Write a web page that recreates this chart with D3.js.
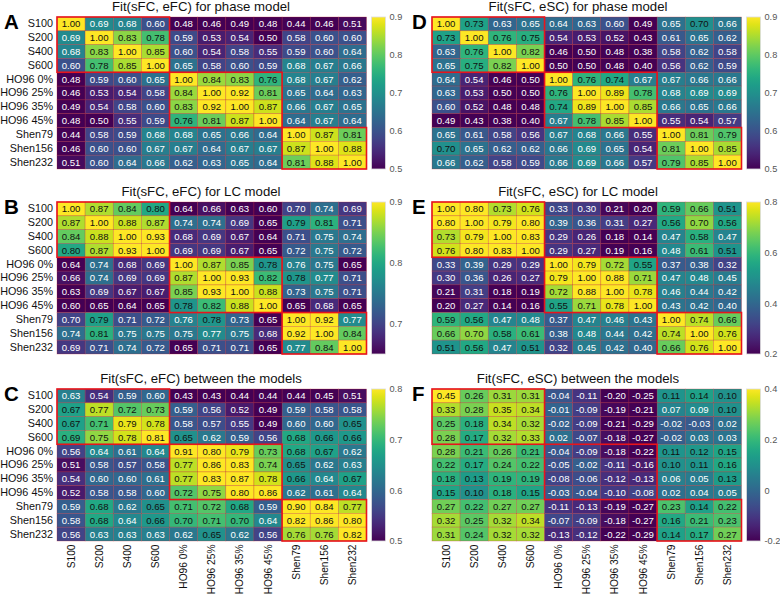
<!DOCTYPE html>
<html><head><meta charset="utf-8">
<script src="https://cdn.jsdelivr.net/npm/d3@7"></script>
<style>
body{margin:0;background:#fff;}
svg{display:block;font-family:"Liberation Sans",Arial,Helvetica,sans-serif;}
</style></head>
<body><svg id="chart" width="780" height="596"></svg>
<script>
const labels = ["S100","S200","S400","S600","HO96 0%","HO96 25%","HO96 35%","HO96 45%","Shen79","Shen156","Shen232"];

const phaseEFC = [
[1.00,0.69,0.68,0.60,0.48,0.46,0.49,0.48,0.44,0.46,0.51],
[0.69,1.00,0.83,0.78,0.59,0.53,0.54,0.50,0.58,0.60,0.60],
[0.68,0.83,1.00,0.85,0.60,0.54,0.58,0.55,0.59,0.60,0.64],
[0.60,0.78,0.85,1.00,0.65,0.58,0.60,0.59,0.68,0.67,0.66],
[0.48,0.59,0.60,0.65,1.00,0.84,0.83,0.76,0.68,0.67,0.62],
[0.46,0.53,0.54,0.58,0.84,1.00,0.92,0.81,0.65,0.64,0.63],
[0.49,0.54,0.58,0.60,0.83,0.92,1.00,0.87,0.66,0.67,0.65],
[0.48,0.50,0.55,0.59,0.76,0.81,0.87,1.00,0.64,0.67,0.64],
[0.44,0.58,0.59,0.68,0.68,0.65,0.66,0.64,1.00,0.87,0.81],
[0.46,0.60,0.60,0.67,0.67,0.64,0.67,0.67,0.87,1.00,0.88],
[0.51,0.60,0.64,0.66,0.62,0.63,0.65,0.64,0.81,0.88,1.00]];

const lcEFC = [
[1.00,0.87,0.84,0.80,0.64,0.66,0.63,0.60,0.70,0.74,0.69],
[0.87,1.00,0.88,0.87,0.74,0.74,0.69,0.65,0.79,0.81,0.71],
[0.84,0.88,1.00,0.93,0.68,0.69,0.67,0.64,0.71,0.75,0.74],
[0.80,0.87,0.93,1.00,0.69,0.69,0.67,0.65,0.72,0.75,0.72],
[0.64,0.74,0.68,0.69,1.00,0.87,0.85,0.78,0.76,0.75,0.65],
[0.66,0.74,0.69,0.69,0.87,1.00,0.93,0.82,0.78,0.77,0.71],
[0.63,0.69,0.67,0.67,0.85,0.93,1.00,0.88,0.73,0.75,0.71],
[0.60,0.65,0.64,0.65,0.78,0.82,0.88,1.00,0.65,0.68,0.65],
[0.70,0.79,0.71,0.72,0.76,0.78,0.73,0.65,1.00,0.92,0.77],
[0.74,0.81,0.75,0.75,0.75,0.77,0.75,0.68,0.92,1.00,0.84],
[0.69,0.71,0.74,0.72,0.65,0.71,0.71,0.65,0.77,0.84,1.00]];

const betweenEFC = [
[0.63,0.54,0.59,0.60,0.43,0.43,0.44,0.44,0.44,0.45,0.51],
[0.67,0.77,0.72,0.73,0.59,0.56,0.52,0.49,0.59,0.58,0.58],
[0.67,0.71,0.79,0.78,0.58,0.57,0.55,0.49,0.60,0.60,0.65],
[0.69,0.75,0.78,0.81,0.65,0.62,0.59,0.56,0.68,0.66,0.66],
[0.56,0.64,0.61,0.64,0.91,0.80,0.79,0.73,0.68,0.67,0.62],
[0.51,0.58,0.57,0.58,0.77,0.86,0.83,0.74,0.65,0.62,0.63],
[0.54,0.60,0.60,0.61,0.77,0.83,0.87,0.78,0.66,0.64,0.67],
[0.52,0.58,0.58,0.60,0.72,0.75,0.80,0.86,0.62,0.61,0.64],
[0.59,0.68,0.62,0.65,0.71,0.72,0.68,0.59,0.90,0.84,0.77],
[0.58,0.68,0.64,0.66,0.70,0.71,0.70,0.64,0.82,0.86,0.80],
[0.56,0.63,0.63,0.63,0.62,0.65,0.62,0.56,0.76,0.76,0.82]];

const phaseESC = [
[1.00,0.73,0.63,0.65,0.64,0.63,0.60,0.49,0.65,0.70,0.66],
[0.73,1.00,0.76,0.75,0.54,0.53,0.52,0.43,0.61,0.65,0.62],
[0.63,0.76,1.00,0.82,0.46,0.50,0.48,0.38,0.58,0.62,0.58],
[0.65,0.75,0.82,1.00,0.50,0.50,0.48,0.40,0.56,0.62,0.59],
[0.64,0.54,0.46,0.50,1.00,0.76,0.74,0.67,0.67,0.66,0.66],
[0.63,0.53,0.50,0.50,0.76,1.00,0.89,0.78,0.68,0.69,0.69],
[0.60,0.52,0.48,0.48,0.74,0.89,1.00,0.85,0.66,0.65,0.66],
[0.49,0.43,0.38,0.40,0.67,0.78,0.85,1.00,0.55,0.54,0.57],
[0.65,0.61,0.58,0.56,0.67,0.68,0.66,0.55,1.00,0.81,0.79],
[0.70,0.65,0.62,0.62,0.66,0.69,0.65,0.54,0.81,1.00,0.85],
[0.66,0.62,0.58,0.59,0.66,0.69,0.66,0.57,0.79,0.85,1.00]];

const lcESC = [
[1.00,0.80,0.73,0.76,0.33,0.30,0.21,0.20,0.59,0.66,0.51],
[0.80,1.00,0.79,0.80,0.39,0.36,0.31,0.27,0.56,0.70,0.56],
[0.73,0.79,1.00,0.83,0.29,0.26,0.18,0.14,0.47,0.58,0.47],
[0.76,0.80,0.83,1.00,0.29,0.27,0.19,0.16,0.48,0.61,0.51],
[0.33,0.39,0.29,0.29,1.00,0.79,0.72,0.55,0.37,0.38,0.32],
[0.30,0.36,0.26,0.27,0.79,1.00,0.88,0.71,0.47,0.48,0.45],
[0.21,0.31,0.18,0.19,0.72,0.88,1.00,0.78,0.46,0.44,0.42],
[0.20,0.27,0.14,0.16,0.55,0.71,0.78,1.00,0.43,0.42,0.40],
[0.59,0.56,0.47,0.48,0.37,0.47,0.46,0.43,1.00,0.74,0.66],
[0.66,0.70,0.58,0.61,0.38,0.48,0.44,0.42,0.74,1.00,0.76],
[0.51,0.56,0.47,0.51,0.32,0.45,0.42,0.40,0.66,0.76,1.00]];

const betweenESC = [
[0.45,0.26,0.31,0.31,-0.04,-0.11,-0.20,-0.25,0.11,0.14,0.10],
[0.33,0.28,0.35,0.34,-0.01,-0.09,-0.19,-0.21,0.07,0.09,0.10],
[0.25,0.18,0.34,0.32,-0.02,-0.09,-0.21,-0.29,-0.02,-0.03,0.02],
[0.28,0.17,0.32,0.33,0.02,-0.07,-0.18,-0.27,-0.02,0.03,0.03],
[0.28,0.21,0.26,0.21,-0.04,-0.09,-0.18,-0.22,0.11,0.12,0.15],
[0.22,0.17,0.24,0.22,-0.05,-0.02,-0.11,-0.16,0.10,0.11,0.16],
[0.18,0.13,0.19,0.19,-0.08,-0.06,-0.12,-0.13,0.06,0.05,0.13],
[0.15,0.10,0.18,0.15,-0.03,-0.04,-0.10,-0.08,0.02,0.04,0.05],
[0.27,0.22,0.27,0.27,-0.11,-0.13,-0.19,-0.27,0.23,0.14,0.22],
[0.32,0.25,0.32,0.34,-0.07,-0.09,-0.18,-0.27,0.16,0.21,0.23],
[0.31,0.24,0.32,0.32,-0.13,-0.12,-0.22,-0.29,0.14,0.17,0.27]];

const titles = ["Fit(sFC, eFC) for phase model","Fit(sFC, eFC) for LC model","Fit(sFC, eFC) between the models",
                "Fit(sFC, eSC) for phase model","Fit(sFC, eSC) for LC model","Fit(sFC, eSC) between the models"];
const letters = ["A","B","C","D","E","F"];
const domains = [[0.5,0.9],[0.65,0.9],[0.5,0.8],[0.5,0.9],[0.2,0.8],[-0.2,0.4]];
const colorTicks = [[0.5,0.6,0.7,0.8,0.9],[0.7,0.8,0.9],[0.5,0.6,0.7,0.8],[0.5,0.6,0.7,0.8,0.9],[0.2,0.4,0.6,0.8],[-0.2,0,0.2,0.4]];
const blocks = [[0,3],[4,7],[8,10]];

const matrices = [phaseEFC, lcEFC, betweenEFC, phaseESC, lcESC, betweenESC];

const svg = d3.select("#chart");
const tops = [17, 202, 389];
const lefts = [57, 432];
const W = 309.5, H = 152;

function fmt(v){ return (v<0?"-":"") + Math.abs(v).toFixed(2); }
function tickFmt(v){ return Math.abs(v)<1e-9 ? "0" : (v<0?"-":"") + String(+Math.abs(v).toFixed(2)); }

matrices.forEach((M, p) => {
  const colIdx = Math.floor(p/3), rowIdx = p%3;
  const x0 = lefts[colIdx], y0 = tops[rowIdx];
  const x = d3.scaleBand().domain(labels).range([x0, x0+W]);
  const y = d3.scaleBand().domain(labels).range([y0, y0+H]);
  const dom = domains[p];
  const norm = d3.scaleLinear().domain(dom).range([0,1]).clamp(true);
  const color = v => d3.interpolateViridis(norm(v));
  const g = svg.append("g");

  const cells = [];
  M.forEach((row,i)=>row.forEach((v,j)=>cells.push({r:labels[i], c:labels[j], v})));

  g.selectAll("rect.cell").data(cells).enter().append("rect")
    .attr("x", d=>x(d.c)).attr("y", d=>y(d.r))
    .attr("width", x.bandwidth()).attr("height", y.bandwidth())
    .attr("fill", d=>color(d.v))
    .attr("stroke", "rgba(190,30,40,0.45)").attr("stroke-width", 0.6);

  g.selectAll("text.val").data(cells).enter().append("text")
    .attr("x", d=>x(d.c)+x.bandwidth()/2).attr("y", d=>y(d.r)+y.bandwidth()/2)
    .attr("dy","0.36em").attr("text-anchor","middle")
    .attr("font-size", 9.6)
    .attr("fill", d=> norm(d.v) >= 0.499 ? "#111" : "#fff")
    .text(d=>fmt(d.v));

  blocks.forEach(([a,b])=>{
    g.append("rect")
      .attr("x", x(labels[a])).attr("y", y(labels[a]))
      .attr("width", x(labels[b])+x.bandwidth()-x(labels[a]))
      .attr("height", y(labels[b])+y.bandwidth()-y(labels[a]))
      .attr("fill","none").attr("stroke","#e8141c").attr("stroke-width",1.6);
  });

  const panelCenter = colIdx===0 ? 201 : 578;
  svg.append("text").attr("x", panelCenter).attr("y", y0-6.5)
    .attr("text-anchor","middle").attr("font-size",13.2).attr("fill","#111")
    .text(titles[p]);
  svg.append("text").attr("x", colIdx===0 ? 4 : 412).attr("y", y0+11.5)
    .attr("font-size",20.5).attr("font-weight","bold").attr("fill","#000")
    .text(letters[p]);

  if (colIdx===0) {
    svg.append("g").attr("transform",`translate(${x0},0)`)
      .call(d3.axisLeft(y).tickSize(0).tickPadding(4))
      .call(s=>s.select(".domain").remove())
      .call(s=>s.selectAll("text").attr("font-size",10.8).attr("fill","#111")
            .attr("font-family","Liberation Sans, Arial, sans-serif"));
  }
  if (rowIdx===2) {
    svg.append("g").attr("transform",`translate(0,${y0+H})`)
      .call(d3.axisBottom(x).tickSize(0).tickPadding(0))
      .call(s=>s.select(".domain").remove())
      .call(s=>s.selectAll("text")
        .attr("font-size",10.2).attr("fill","#111")
        .attr("font-family","Liberation Sans, Arial, sans-serif")
        .attr("text-anchor","end").attr("transform","rotate(-90)")
        .attr("x",-3.5).attr("y",0).attr("dy","0.35em"));
  }

  const cbX = x0 + W + 5, cbW = 14;
  const gid = "grad"+p;
  const grad = svg.append("defs").append("linearGradient").attr("id",gid)
    .attr("x1","0").attr("y1","1").attr("x2","0").attr("y2","0");
  d3.range(0,1.0001,0.05).forEach(t=>{
    grad.append("stop").attr("offset",t).attr("stop-color",d3.interpolateViridis(t));
  });
  svg.append("rect").attr("x",cbX).attr("y",y0).attr("width",cbW).attr("height",H)
    .attr("fill",`url(#${gid})`).attr("stroke","#ddd").attr("stroke-width",0.8);
  const cbScale = d3.scaleLinear().domain(dom).range([y0+H, y0]);
  svg.append("g").attr("transform",`translate(${cbX+cbW},0)`)
    .call(d3.axisRight(cbScale).tickValues(colorTicks[p]).tickSize(0).tickPadding(4).tickFormat(tickFmt))
    .call(s=>s.select(".domain").remove())
    .call(s=>s.selectAll("text").attr("font-size",9.2).attr("fill","#555")
          .attr("font-family","Liberation Sans, Arial, sans-serif"));
});
</script></body></html>
